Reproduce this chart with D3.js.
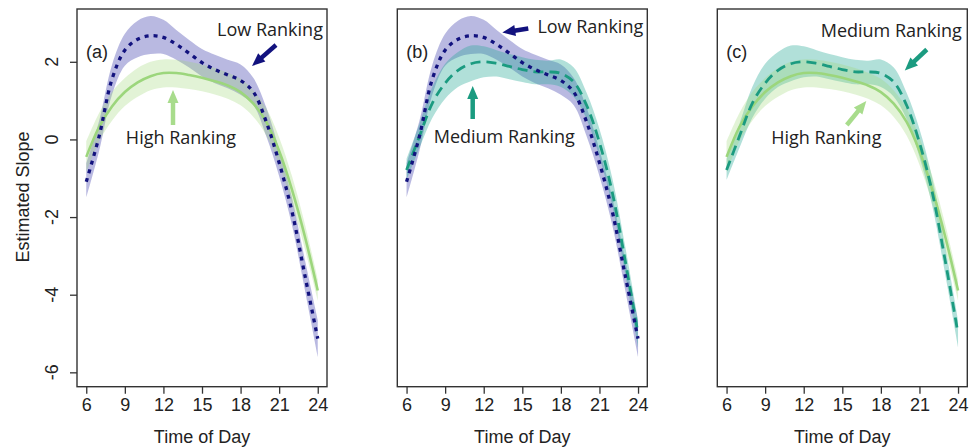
<!DOCTYPE html>
<html><head><meta charset="utf-8">
<script src="https://cdn.jsdelivr.net/npm/d3@7"></script>
<style>body{margin:0;background:#fff}</style>
</head><body>
<svg id="chart" width="977" height="448"></svg>
<script>
// ---- data ----
const hours = [6,7,8,9,10,11,12,13,14,15,16,17,18,19,20,21,22,23,24];
const lowMean  = [-1.09,0.08,1.55,2.30,2.58,2.67,2.63,2.45,2.22,1.98,1.80,1.66,1.52,1.22,0.45,-0.60,-1.86,-3.50,-5.13];
const lowLower = [-1.50,-0.30,1.15,1.90,2.12,2.20,2.20,2.05,1.85,1.62,1.45,1.32,1.15,0.88,0.08,-0.95,-2.22,-3.88,-5.60];
const lowUpper = [-0.62,0.48,1.92,2.72,3.06,3.18,3.08,2.82,2.56,2.33,2.18,2.05,1.93,1.58,0.82,-0.27,-1.50,-3.10,-4.65];
const medMean  = [-0.79,0.08,0.93,1.45,1.78,1.95,2.00,1.96,1.88,1.80,1.74,1.74,1.70,1.48,0.88,-0.08,-1.37,-3.12,-5.00];
const medLower = [-1.05,-0.22,0.55,1.05,1.35,1.50,1.60,1.62,1.55,1.48,1.42,1.42,1.35,1.10,0.52,-0.45,-1.72,-3.47,-5.35];
const medUpper = [-0.50,0.40,1.35,1.95,2.25,2.42,2.40,2.30,2.20,2.12,2.05,2.03,2.06,1.85,1.20,0.27,-1.00,-2.75,-4.65];
const highMean  = [-0.45,0.32,0.85,1.22,1.47,1.63,1.71,1.71,1.66,1.59,1.50,1.39,1.22,0.92,0.45,-0.30,-1.30,-2.50,-3.89];
const highLower = [-0.85,-0.05,0.48,0.86,1.10,1.27,1.34,1.34,1.30,1.24,1.16,1.05,0.88,0.58,0.10,-0.65,-1.65,-2.82,-4.15];
const highUpper = [-0.05,0.68,1.22,1.58,1.84,2.00,2.06,2.05,2.00,1.93,1.84,1.72,1.56,1.26,0.80,0.05,-0.95,-2.18,-3.60];
const xTicks = [6,9,12,15,18,21,24];
const yTicks = [-6,-4,-2,0,2];
const panelLabels = ["(a)","(b)","(c)"];
const seriesNames = {low:"Low Ranking", med:"Medium Ranking", high:"High Ranking"};
const xTitle = "Time of Day";
const yTitle = "Estimated Slope";

// ---- styles ----
const styles = {
  low:  {line:"#12127e", band:"rgba(80,80,180,0.40)", width:3.3, dash:"4,5", arrow:"#12127e"},
  med:  {line:"#1b9b80", band:"rgba(40,170,150,0.36)", width:2.8, dash:"10,6", arrow:"#1b9b80"},
  high: {line:"#9cd67c", band:"rgba(160,215,120,0.30)", width:2.6, dash:null, arrow:"#a8dc8c"}
};
const data = {
  low:  hours.map((t,i)=>({t, m:lowMean[i],  lo:lowLower[i],  hi:lowUpper[i]})),
  med:  hours.map((t,i)=>({t, m:medMean[i],  lo:medLower[i],  hi:medUpper[i]})),
  high: hours.map((t,i)=>({t, m:highMean[i], lo:highLower[i], hi:highUpper[i]}))
};

const svg = d3.select("#chart");
const W = 250, plotTop = 9, plotBottom = 386.7;
const panelLefts = [77, 397.3, 717.3];
const x = d3.scaleLinear().domain([5.28, 24.72]).range([0, W]);
const y = d3.scaleLinear().domain([-6.37, 3.36]).range([plotBottom, plotTop]);
const axisFont = "'Liberation Sans', Arial, sans-serif";
const annFont = "'Open Sans', 'Noto Sans', sans-serif";

const panels = [
  {bands:["low","high"], lines:["high","low"],
   ann:[{s:"low", text:[193,36], arrow:[199,45,175,66]},
        {s:"high", text:[104,144], arrow:[96,125,96,90]}]},
  {bands:["low","med"], lines:["med","low"],
   ann:[{s:"low", text:[193,33], arrow:[131,28.5,105,32.5]},
        {s:"med", text:[107,143], arrow:[75.4,119,75.4,86]}]},
  {bands:["med","high"], lines:["high","med"],
   ann:[{s:"med", text:[174,37], arrow:[209.5,49.5,187.5,70.5]},
        {s:"high", text:[109,144], arrow:[129.5,125,149,101]}]}
];

function arrow(g, x1, y1, x2, y2, color) {
  const ang = Math.atan2(y2-y1, x2-x1);
  const hl = 13, hw = 5.5;
  const bx = x2 - hl*Math.cos(ang), by = y2 - hl*Math.sin(ang);
  g.append("line").attr("x1",x1).attr("y1",y1).attr("x2",bx+Math.cos(ang)).attr("y2",by+Math.sin(ang))
    .attr("stroke",color).attr("stroke-width",4.5);
  const px = -Math.sin(ang)*hw, py = Math.cos(ang)*hw;
  g.append("path").attr("d",`M${x2},${y2}L${bx+px},${by+py}L${bx-px},${by-py}Z`).attr("fill",color);
}

const area = d3.area().x(d=>x(d.t)).y0(d=>y(d.lo)).y1(d=>y(d.hi)).curve(d3.curveCatmullRom.alpha(0.5));
const line = d3.line().x(d=>x(d.t)).y(d=>y(d.m)).curve(d3.curveCatmullRom.alpha(0.5));

panels.forEach((p, pi) => {
  const g = svg.append("g").attr("transform", `translate(${panelLefts[pi]},0)`);
  p.bands.forEach(s => g.append("path").datum(data[s]).attr("d", area).attr("fill", styles[s].band));
  p.lines.forEach(s => {
    const st = styles[s];
    g.append("path").datum(data[s]).attr("d", line).attr("fill","none")
      .attr("stroke", st.line).attr("stroke-width", st.width)
      .attr("stroke-dasharray", st.dash);
  });
  g.append("rect").attr("x",0).attr("y",plotTop).attr("width",W).attr("height",plotBottom-plotTop)
    .attr("fill","none").attr("stroke","#333").attr("stroke-width",1.4);
  const xa = g.append("g").attr("transform",`translate(0,${plotBottom})`)
    .call(d3.axisBottom(x).tickValues(xTicks).tickSize(7).tickPadding(5).tickSizeOuter(0));
  xa.select(".domain").remove();
  xa.selectAll("line").attr("stroke","#333").attr("stroke-width",1.3);
  xa.selectAll("text").attr("font-family",axisFont).attr("font-size",18).attr("fill","#222");
  g.append("text").attr("x",x(15)).attr("y",443).attr("text-anchor","middle")
    .attr("font-family",axisFont).attr("font-size",18).attr("fill","#222").text(xTitle);
  g.append("text").attr("x",9).attr("y",58).attr("font-family",axisFont).attr("font-size",18)
    .attr("fill","#222").text(panelLabels[pi]);
  p.ann.forEach(a => {
    g.append("text").attr("x",a.text[0]).attr("y",a.text[1]).attr("text-anchor","middle")
      .attr("font-family",annFont).attr("font-size",18).attr("fill","#222").text(seriesNames[a.s]);
    arrow(g, a.arrow[0], a.arrow[1], a.arrow[2], a.arrow[3], styles[a.s].arrow);
  });
  if (pi === 0) {
    const ya = g.append("g").call(d3.axisLeft(y).tickValues(yTicks).tickSize(7).tickSizeOuter(0));
    ya.select(".domain").remove();
    ya.selectAll("line").attr("stroke","#333").attr("stroke-width",1.3);
    ya.selectAll("text").remove();
    yTicks.forEach(v => {
      g.append("text").attr("transform",`translate(-25,${y(v)}) rotate(-90)`)
        .attr("text-anchor","middle").attr("dy","0.35em")
        .attr("font-family",axisFont).attr("font-size",18).attr("fill","#222").text(v);
    });
    g.append("text").attr("transform",`translate(-54,197) rotate(-90)`)
      .attr("text-anchor","middle").attr("dy","0.35em")
      .attr("font-family",axisFont).attr("font-size",18).attr("fill","#222").text(yTitle);
  }
});
</script>
</body></html>
